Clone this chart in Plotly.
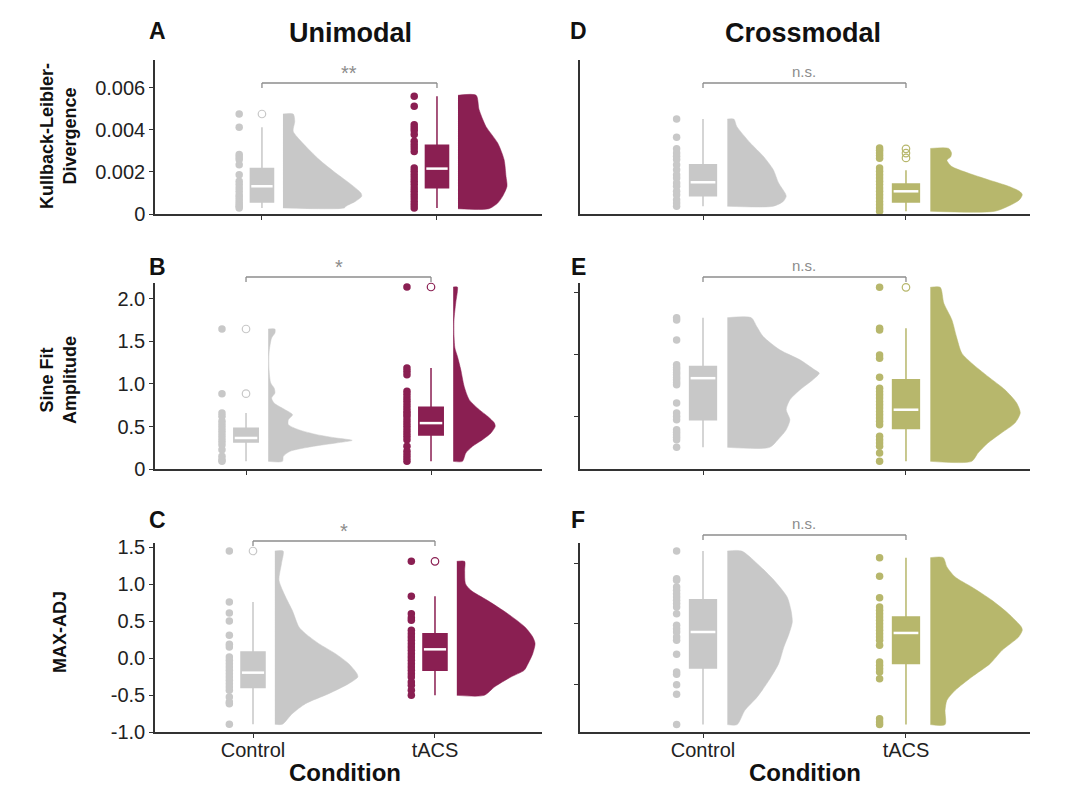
import plotly.graph_objects as go

categories = ["Control", "tACS"]
cat_pos = [1, 2]

# ---------------- Panel A (Unimodal, KL divergence) ----------------
A_ctrl_pts = [0.00476, 0.00413, 0.00283, 0.00271, 0.00259, 0.00235, 0.00187, 0.00156, 0.00140, 0.00124,
              0.00108, 0.00092, 0.00081, 0.00068, 0.00056, 0.00044, 0.00037, 0.00029]
A_ctrl_box = [0.00057, 0.00132, 0.00216, 0.00029, 0.00413]  # q1, median, q3, low, high
A_ctrl_out = [0.00476]
A_ctrl_vy = [0.00476, 0.00441, 0.00394, 0.00338, 0.00259, 0.00195, 0.00148, 0.00100, 0.00084, 0.00060, 0.00037, 0.00029]
A_ctrl_vd = [0.13, 0.15, 0.13, 0.25, 0.46, 0.67, 0.84, 0.99, 1.0, 0.92, 0.80, 0.78]

A_tacs_pts = [0.00560, 0.00513, 0.00425, 0.00410, 0.00398, 0.00378, 0.00346, 0.00330, 0.00314, 0.00298,
              0.00219, 0.00203, 0.00187, 0.00171, 0.00156, 0.00140, 0.00124, 0.00108, 0.00092, 0.00076,
              0.00060, 0.00044, 0.00029]
A_tacs_box = [0.00125, 0.00216, 0.00327, 0.00029, 0.00560]
A_tacs_out = []
A_tacs_vy = [0.00565, 0.00497, 0.00417, 0.00338, 0.00259, 0.00179, 0.00132, 0.00084, 0.00052, 0.00025]
A_tacs_vd = [0.37, 0.43, 0.57, 0.81, 0.94, 0.98, 1.0, 0.91, 0.81, 0.63]

# ---------------- Panel B (Unimodal, Sine fit amplitude) ----------------
B_ctrl_pts = [1.647, 0.886, 0.659, 0.620, 0.561, 0.522, 0.482, 0.443, 0.404, 0.365, 0.325, 0.286, 0.227,
              0.149, 0.110, 0.090]
B_ctrl_box = [0.318, 0.365, 0.478, 0.090, 0.659]
B_ctrl_out = [1.647, 0.886]
B_ctrl_vy = [1.647, 1.600, 1.541, 1.365, 1.169, 1.012, 0.953, 0.894, 0.835, 0.776, 0.698, 0.639, 0.580,
             0.522, 0.463, 0.404, 0.365, 0.337, 0.306, 0.267, 0.208, 0.149, 0.090]
B_ctrl_vd = [0.08, 0.08, 0.04, 0.01, 0.01, 0.03, 0.07, 0.08, 0.04, 0.07, 0.20, 0.29, 0.24, 0.24, 0.36,
             0.58, 0.81, 1.0, 0.81, 0.54, 0.26, 0.18, 0.17]

B_tacs_pts = [2.141, 1.188, 1.149, 1.110, 0.914, 0.875, 0.835, 0.796, 0.757, 0.718, 0.678, 0.651, 0.620,
              0.580, 0.541, 0.502, 0.463, 0.424, 0.384, 0.345, 0.267, 0.208, 0.169, 0.129, 0.090]
B_tacs_box = [0.400, 0.540, 0.725, 0.090, 1.188]
B_tacs_out = [2.141]
B_tacs_vy = [2.141, 2.090, 1.953, 1.757, 1.561, 1.424, 1.325, 1.169, 0.973, 0.816, 0.698, 0.620, 0.541,
             0.502, 0.424, 0.345, 0.267, 0.188, 0.090]
B_tacs_vd = [0.10, 0.10, 0.06, 0.02, 0.02, 0.04, 0.10, 0.18, 0.26, 0.38, 0.62, 0.82, 0.98, 1.0, 0.90,
             0.70, 0.46, 0.30, 0.22]

# ---------------- Panel C (Unimodal, MAX-ADJ) ----------------
C_ctrl_pts = [1.446, 0.757, 0.608, 0.500, 0.306, 0.185, 0.149, 0.014, -0.032, -0.077, -0.122, -0.167,
              -0.212, -0.257, -0.302, -0.347, -0.392, -0.437, -0.527, -0.595, -0.617, -0.896]
C_ctrl_box = [-0.400, -0.198, 0.081, -0.896, 0.757]
C_ctrl_out = [1.446]
C_ctrl_vy = [1.446, 1.275, 1.050, 0.824, 0.644, 0.419, 0.329, 0.194, 0.059, -0.077, -0.212, -0.257,
             -0.347, -0.482, -0.617, -0.752, -0.896]
C_ctrl_vd = [0.10, 0.08, 0.05, 0.13, 0.21, 0.29, 0.37, 0.53, 0.73, 0.89, 0.99, 1.0, 0.89, 0.65, 0.37,
             0.21, 0.09]

C_tacs_pts = [1.306, 0.833, 0.599, 0.545, 0.509, 0.374, 0.329, 0.284, 0.239, 0.194, 0.149, 0.104, 0.059,
              0.014, -0.032, -0.077, -0.122, -0.167, -0.212, -0.257, -0.324, -0.369, -0.437, -0.505]
C_tacs_box = [-0.167, 0.117, 0.329, -0.505, 0.833]
C_tacs_out = [1.306]
C_tacs_vy = [1.306, 1.185, 1.005, 0.914, 0.779, 0.599, 0.419, 0.284, 0.194, 0.059, -0.077, -0.167,
             -0.257, -0.392, -0.505]
C_tacs_vd = [0.10, 0.10, 0.11, 0.18, 0.39, 0.65, 0.87, 0.97, 1.0, 0.97, 0.91, 0.86, 0.69, 0.48, 0.35]

# ---------------- Panel D (Crossmodal, KL divergence) ----------------
D_ctrl_pts = [0.00452, 0.00365, 0.00310, 0.00290, 0.00275, 0.00259, 0.00235, 0.00211, 0.00187, 0.00171,
              0.00148, 0.00132, 0.00108, 0.00092, 0.00068, 0.00052, 0.00037]
D_ctrl_box = [0.00087, 0.00151, 0.00235, 0.00037, 0.00452]
D_ctrl_out = []
D_ctrl_vy = [0.00452, 0.00417, 0.00338, 0.00275, 0.00211, 0.00148, 0.00100, 0.00084, 0.00060, 0.00037]
D_ctrl_vd = [0.11, 0.16, 0.39, 0.61, 0.78, 0.87, 0.98, 1.0, 0.95, 0.78]

D_tacs_pts = [0.00314, 0.00303, 0.00290, 0.00278, 0.00265, 0.00219, 0.00203, 0.00187, 0.00171, 0.00156,
              0.00140, 0.00124, 0.00108, 0.00092, 0.00076, 0.00060, 0.00044, 0.00029, 0.00013]
D_tacs_box = [0.00057, 0.00108, 0.00143, 0.00013, 0.00208]
D_tacs_out = [0.00310, 0.00290, 0.00267]
D_tacs_vy = [0.00312, 0.00290, 0.00271, 0.00256, 0.00227, 0.00195, 0.00163, 0.00132, 0.00108, 0.00092,
             0.00068, 0.00044, 0.00013]
D_tacs_vd = [0.20, 0.23, 0.22, 0.18, 0.23, 0.41, 0.63, 0.85, 0.97, 1.0, 0.97, 0.88, 0.70]

# ---------------- Panel E (Crossmodal, Sine fit amplitude) ----------------
E_ctrl_pts = [1.298, 1.280, 1.118, 0.917, 0.895, 0.876, 0.855, 0.836, 0.815, 0.796, 0.774, 0.755, 0.608,
              0.527, 0.500, 0.473, 0.392, 0.371, 0.352, 0.331, 0.312, 0.250]
E_ctrl_box = [0.473, 0.809, 0.903, 0.250, 1.298]
E_ctrl_out = []
E_ctrl_vy = [1.298, 1.226, 1.145, 1.038, 0.957, 0.876, 0.849, 0.796, 0.715, 0.634, 0.554, 0.473, 0.392,
             0.312, 0.250]
E_ctrl_vd = [0.26, 0.32, 0.39, 0.57, 0.79, 0.95, 1.0, 0.93, 0.79, 0.68, 0.64, 0.68, 0.64, 0.55, 0.46]

E_tacs_pts = [1.543, 1.212, 1.199, 0.997, 0.970, 0.817, 0.728, 0.702, 0.675, 0.648, 0.621, 0.594, 0.567,
              0.540, 0.513, 0.487, 0.460, 0.433, 0.339, 0.312, 0.285, 0.258, 0.204, 0.137]
E_tacs_box = [0.403, 0.554, 0.796, 0.137, 1.212]
E_tacs_out = [1.543]
E_tacs_vy = [1.543, 1.414, 1.280, 1.145, 1.011, 0.930, 0.823, 0.715, 0.608, 0.527, 0.446, 0.366, 0.285,
             0.204, 0.137]
E_tacs_vd = [0.11, 0.15, 0.24, 0.29, 0.35, 0.46, 0.64, 0.83, 0.96, 1.0, 0.94, 0.79, 0.64, 0.53, 0.46]

# ---------------- Panel F (Crossmodal, MAX-ADJ) ----------------
F_ctrl_pts = [1.201, 0.744, 0.716, 0.606, 0.551, 0.496, 0.441, 0.386, 0.331, 0.275, 0.165, -0.028,
              -0.083, -0.138, -0.220, -0.275, -0.507, -0.799, -0.837, -1.008, -1.168, -1.669]
F_ctrl_box = [-0.733, -0.138, 0.397, -1.669, 1.201]
F_ctrl_out = []
F_ctrl_vy = [1.201, 0.992, 0.716, 0.441, 0.220, 0.028, -0.165, -0.386, -0.661, -0.937, -1.212, -1.433, -1.669]
F_ctrl_vd = [0.22, 0.46, 0.72, 0.92, 0.98, 1.0, 0.95, 0.87, 0.79, 0.64, 0.46, 0.27, 0.15]

F_tacs_pts = [1.091, 0.782, 0.430, 0.275, 0.220, 0.165, 0.110, 0.055, 0.0, -0.055, -0.110, -0.165, -0.220,
              -0.275, -0.358, -0.634, -0.689, -0.744, -0.799, -0.909, -1.570, -1.625, -1.669]
F_tacs_box = [-0.660, -0.154, 0.110, -1.669, 1.091]
F_tacs_out = []
F_tacs_vy = [1.091, 0.937, 0.771, 0.606, 0.386, 0.165, -0.055, -0.110, -0.220, -0.441, -0.661, -0.882,
             -1.102, -1.267, -1.433, -1.669]
F_tacs_vd = [0.14, 0.18, 0.27, 0.45, 0.67, 0.85, 0.99, 1.0, 0.96, 0.78, 0.65, 0.45, 0.27, 0.18, 0.16, 0.16]

significance = {"A": "**", "B": "*", "C": "*", "D": "n.s.", "E": "n.s.", "F": "n.s."}

# ---------------- styles ----------------
GRAY = "#c8c8c8"
MAROON = "#8a1f52"
OLIVE = "#b7b76c"
SIGC = "#8c8c8c"
AXC = "#333333"
FONT = "Liberation Sans, Arial, sans-serif"

DOT_OFF = -0.13
BOX_W = 0.132
VIO_OFF = 0.12

panels = {
    "A": dict(i=1, groups=[(A_ctrl_pts, A_ctrl_box, A_ctrl_out, A_ctrl_vy, A_ctrl_vd),
                           (A_tacs_pts, A_tacs_box, A_tacs_out, A_tacs_vy, A_tacs_vd)],
              col=MAROON, vw=(0.45, 0.28), xr=[0.389, 2.60], yr=[0, 0.00733], col_i=0, row=0, by=83),
    "B": dict(i=2, groups=[(B_ctrl_pts, B_ctrl_box, B_ctrl_out, B_ctrl_vy, B_ctrl_vd),
                           (B_tacs_pts, B_tacs_box, B_tacs_out, B_tacs_vy, B_tacs_vd)],
              col=MAROON, vw=(0.454, 0.227), xr=[0.508, 2.60], yr=[0, 2.188], col_i=0, row=1, by=277),
    "C": dict(i=3, groups=[(C_ctrl_pts, C_ctrl_box, C_ctrl_out, C_ctrl_vy, C_ctrl_vd),
                           (C_tacs_pts, C_tacs_box, C_tacs_out, C_tacs_vy, C_tacs_vd)],
              col=MAROON, vw=(0.456, 0.43), xr=[0.4615, 2.588], yr=[-1.0, 1.554], col_i=0, row=2, by=541),
    "D": dict(i=4, groups=[(D_ctrl_pts, D_ctrl_box, D_ctrl_out, D_ctrl_vy, D_ctrl_vd),
                           (D_tacs_pts, D_tacs_box, D_tacs_out, D_tacs_vy, D_tacs_vd)],
              col=OLIVE, vw=(0.29, 0.453), xr=[0.394, 2.611], yr=[0, 0.00733], col_i=1, row=0, by=83),
    "E": dict(i=5, groups=[(E_ctrl_pts, E_ctrl_box, E_ctrl_out, E_ctrl_vy, E_ctrl_vd),
                           (E_tacs_pts, E_tacs_box, E_tacs_out, E_tacs_vy, E_tacs_vd)],
              col=OLIVE, vw=(0.453, 0.443), xr=[0.394, 2.611], yr=[0.075, 1.578], col_i=1, row=1, by=277),
    "F": dict(i=6, groups=[(F_ctrl_pts, F_ctrl_box, F_ctrl_out, F_ctrl_vy, F_ctrl_vd),
                           (F_tacs_pts, F_tacs_box, F_tacs_out, F_tacs_vy, F_tacs_vd)],
              col=OLIVE, vw=(0.32, 0.453), xr=[0.394, 2.611], yr=[-1.791, 1.333], col_i=1, row=2, by=535),
}

# page body has an 8px margin: lay out in window pixels, then shift
OFF = 8
W, H = 1080 - OFF, 797 - OFF


def fx(px):
    return (px - OFF) / W


def fy(py):
    return 1 - (py - OFF) / H


x_domains = [[fx(155), fx(542)], [fx(580), fx(1030)]]
y_domains = [[fy(214), fy(60)], [fy(469), fy(283)], [fy(732), fy(543)]]

y_ticks = {
    "A": dict(tickvals=[0, 0.002, 0.004, 0.006], ticktext=["0", "0.002", "0.004", "0.006"], showticklabels=True, ticks="outside"),
    "B": dict(tickvals=[0, 0.5, 1.0, 1.5, 2.0], ticktext=["0", "0.5", "1.0", "1.5", "2.0"], showticklabels=True, ticks="outside"),
    "C": dict(tickvals=[-1.0, -0.5, 0, 0.5, 1.0, 1.5], ticktext=["-1.0", "-0.5", "0.0", "0.5", "1.0", "1.5"], showticklabels=True, ticks="outside"),
    "D": dict(tickvals=[], showticklabels=False, ticks=""),
    "E": dict(tickvals=[0.5, 1.0, 1.5], showticklabels=False, ticks="outside"),
    "F": dict(tickvals=[-1, 0, 1], showticklabels=False, ticks="outside"),
}

fig = go.Figure()
shapes = []
annotations = []

for key, p in panels.items():
    i = p["i"]
    xa = "x" if i == 1 else f"x{i}"
    ya = "y" if i == 1 else f"y{i}"
    colors = [GRAY, p["col"]]
    for gi, (pts, box, out, vy, vd) in enumerate(p["groups"]):
        pos = cat_pos[gi]
        c = colors[gi]
        # half violin
        base = pos + VIO_OFF
        vx = [base] + [base + d * p["vw"][gi] for d in vd] + [base]
        vyy = [vy[0]] + vy + [vy[-1]]
        fig.add_trace(go.Scatter(x=vx, y=vyy, xaxis=xa, yaxis=ya, mode="lines", fill="toself",
                                 fillcolor=c, line=dict(color=c, width=0.5, shape="spline", smoothing=0.7),
                                 hoverinfo="skip", showlegend=False))
        # raw points
        fig.add_trace(go.Scatter(x=[pos + DOT_OFF] * len(pts), y=pts, xaxis=xa, yaxis=ya, mode="markers",
                                 marker=dict(color=c, size=7.5, line=dict(width=0)),
                                 showlegend=False, cliponaxis=False))
        # box
        fig.add_trace(go.Box(x=[pos], q1=[box[0]], median=[box[1]], q3=[box[2]],
                             lowerfence=[box[3]], upperfence=[box[4]], xaxis=xa, yaxis=ya,
                             width=BOX_W, fillcolor=c, line=dict(color=c, width=1.5),
                             whiskerwidth=0, boxpoints=False, showlegend=False))
        # median line
        fig.add_trace(go.Scatter(x=[pos - BOX_W / 2 + 0.005, pos + BOX_W / 2 - 0.005], y=[box[1], box[1]],
                                 xaxis=xa, yaxis=ya, mode="lines", line=dict(color="white", width=2.5),
                                 hoverinfo="skip", showlegend=False))
        # outliers
        if out:
            fig.add_trace(go.Scatter(x=[pos] * len(out), y=out, xaxis=xa, yaxis=ya, mode="markers",
                                     marker=dict(symbol="circle-open", color=c, size=7.5, line=dict(width=1.2)),
                                     showlegend=False, cliponaxis=False))

    # significance bracket
    yb = fy(p["by"])
    yt = fy(p["by"] + 5)
    for seg in [((1, yt), (1, yb)), ((1, yb), (2, yb)), ((2, yb), (2, yt))]:
        shapes.append(dict(type="line", xref=xa, yref="paper", x0=seg[0][0], y0=seg[0][1],
                           x1=seg[1][0], y1=seg[1][1], line=dict(color=SIGC, width=1.3)))
    sig = significance[key]
    annotations.append(dict(text=sig, xref=xa, yref="paper", x=1.5,
                            y=yb + (1 / H) * (1 if sig == "n.s." else -3),
                            xanchor="center", yanchor="bottom", showarrow=False,
                            font=dict(family=FONT, size=20 if sig != "n.s." else 15, color=SIGC)))

    # axes
    xdom = x_domains[p["col_i"]]
    ydom = y_domains[p["row"]]
    xaxis = dict(domain=xdom, range=p["xr"], anchor=ya, showline=True, linecolor=AXC, linewidth=1.5,
                 ticks="outside", ticklen=4, tickcolor=AXC, tickwidth=1, tickvals=cat_pos,
                 ticktext=categories, showticklabels=(p["row"] == 2), showgrid=False, zeroline=False,
                 tickfont=dict(family=FONT, size=20, color="#222"), fixedrange=True, automargin=False,
                 ticklabelstandoff=-5)
    yaxis = dict(domain=ydom, range=p["yr"], anchor=xa, showline=True, linecolor=AXC, linewidth=1.5,
                 ticklen=4, tickcolor=AXC, tickwidth=1, showgrid=False, zeroline=False,
                 tickfont=dict(family=FONT, size=20, color="#222"), fixedrange=True, automargin=False,
                 **y_ticks[key])
    fig.layout["xaxis" if i == 1 else f"xaxis{i}"] = xaxis
    fig.layout["yaxis" if i == 1 else f"yaxis{i}"] = yaxis


def pan(text, px, py, size, bold=True, angle=0, color="#111"):
    return dict(text=f"<b>{text}</b>" if bold else text, xref="paper", yref="paper", x=fx(px), y=fy(py),
                xanchor="center", yanchor="middle", showarrow=False, textangle=angle,
                font=dict(family=FONT, size=size, color=color))


annotations += [
    pan("A", 157, 31, 23), pan("Unimodal", 350, 33, 27),
    pan("D", 578, 31, 23), pan("Crossmodal", 803, 33, 27),
    pan("B", 157, 267, 23), pan("E", 578, 267, 23),
    pan("C", 157, 520, 23), pan("F", 578, 520, 23),
    pan("Condition", 345, 772, 24), pan("Condition", 805, 772, 24),
    pan("Kullback-Leibler-<br>Divergence", 58, 136, 18, angle=-90),
    pan("Sine Fit<br>Amplitude", 58, 380, 18, angle=-90),
    pan("MAX-ADJ", 60, 632, 18, angle=-90),
]

fig.update_layout(width=W, height=H, margin=dict(l=0, r=0, t=0, b=0, pad=0), plot_bgcolor="white",
                  paper_bgcolor="white", shapes=shapes, annotations=annotations, showlegend=False,
                  boxmode="overlay", font=dict(family=FONT))

fig.write_html("out.html")
